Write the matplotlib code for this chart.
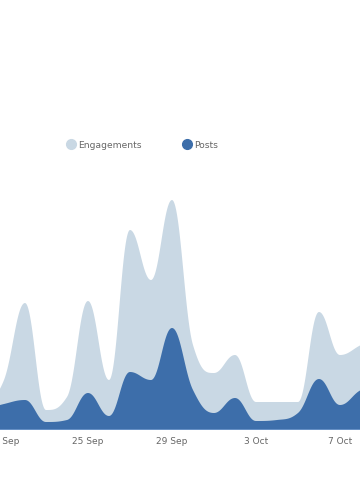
import numpy as np
import matplotlib
matplotlib.use('Agg')
import matplotlib.pyplot as plt
from matplotlib.lines import Line2D

# daily values, 20 Sep .. 9 Oct
days = ['20 Sep', '21 Sep', '22 Sep', '23 Sep', '24 Sep', '25 Sep', '26 Sep',
        '27 Sep', '28 Sep', '29 Sep', '30 Sep', '1 Oct', '2 Oct', '3 Oct',
        '4 Oct', '5 Oct', '6 Oct', '7 Oct', '8 Oct', '9 Oct']
engagements = [20, 50, 127, 20, 33, 129, 50, 200, 150, 230, 85, 57, 75, 28,
               28, 28, 118, 75, 85, 95]
posts = [20, 26, 30, 8, 10, 37, 14, 58, 50, 102, 40, 17, 32, 9,
         10, 17, 51, 25, 40, 45]
tick_days = ['21 Sep', '25 Sep', '29 Sep', '3 Oct', '7 Oct']

C_ENG = '#c9d8e4'
C_POSTS = '#3d6eaa'


def spline(xs, ys, n=40):
    # areaspline-style curve: cubic beziers with smoothing 1.5
    s = 1.5
    m = len(xs)
    lc = [(xs[i], ys[i]) for i in range(m)]
    rc = [(xs[i], ys[i]) for i in range(m)]
    for i in range(1, m - 1):
        px, py = xs[i], ys[i]
        lx, ly = xs[i - 1], ys[i - 1]
        nx, ny = xs[i + 1], ys[i + 1]
        lcx = (s * px + lx) / (s + 1)
        lcy = (s * py + ly) / (s + 1)
        rcx = (s * px + nx) / (s + 1)
        rcy = (s * py + ny) / (s + 1)
        corr = (rcy - lcy) * (rcx - px) / (rcx - lcx) + py - rcy
        lcy += corr
        rcy += corr
        if lcy > ly and lcy > py:
            lcy = max(ly, py); rcy = 2 * py - lcy
        elif lcy < ly and lcy < py:
            lcy = min(ly, py); rcy = 2 * py - lcy
        if rcy > ny and rcy > py:
            rcy = max(ny, py); lcy = 2 * py - rcy
        elif rcy < ny and rcy < py:
            rcy = min(ny, py); lcy = 2 * py - rcy
        lc[i] = (lcx, lcy)
        rc[i] = (rcx, rcy)
    t = np.linspace(0, 1, n)[:, None]
    out = []
    for i in range(1, m):
        p0 = np.array([xs[i - 1], ys[i - 1]])
        p1 = np.array(rc[i - 1])
        p2 = np.array(lc[i])
        p3 = np.array([xs[i], ys[i]])
        seg = ((1 - t) ** 3 * p0 + 3 * (1 - t) ** 2 * t * p1
               + 3 * (1 - t) * t ** 2 * p2 + t ** 3 * p3)
        out.append(seg if i == 1 else seg[1:])
    out = np.vstack(out)
    return out[:, 0], out[:, 1]


x = np.arange(len(days))

fig = plt.figure(figsize=(3.6, 5.0), dpi=100)
ax = fig.add_axes([0, 0.14, 1, 0.48])

ex, ey = spline(x, engagements)
px, py = spline(x, posts)
ax.fill_between(ex, 0, ey, color=C_ENG, linewidth=0)
ax.fill_between(px, 0, py, color=C_POSTS, linewidth=0)
ax.axhline(0, color='#6f98cb', linewidth=1.2)

ax.set_xlim(1 - 4 / 21, 1 + 356 / 21)
ax.set_ylim(0, 240)
ax.set_yticks([])
ax.set_xticks([days.index(d) for d in tick_days])
ax.set_xticklabels(tick_days)
ax.tick_params(axis='x', length=0, pad=5, labelsize=6.5, labelcolor='#666666')
for sp in ax.spines.values():
    sp.set_visible(False)

handles = [Line2D([], [], marker='o', linestyle='none', markersize=7,
                  markerfacecolor=C_ENG, markeredgecolor=C_ENG),
           Line2D([], [], marker='o', linestyle='none', markersize=7,
                  markerfacecolor=C_POSTS, markeredgecolor=C_POSTS)]
fig.legend(handles, ['Engagements', 'Posts'], loc='center',
           bbox_to_anchor=(142 / 360, 1 - 145 / 500), ncol=2, frameon=False,
           fontsize=6.6, labelcolor='#666666', handletextpad=0.3,
           columnspacing=4.4, handlelength=1.0)

fig.savefig('out.png', dpi=100)
